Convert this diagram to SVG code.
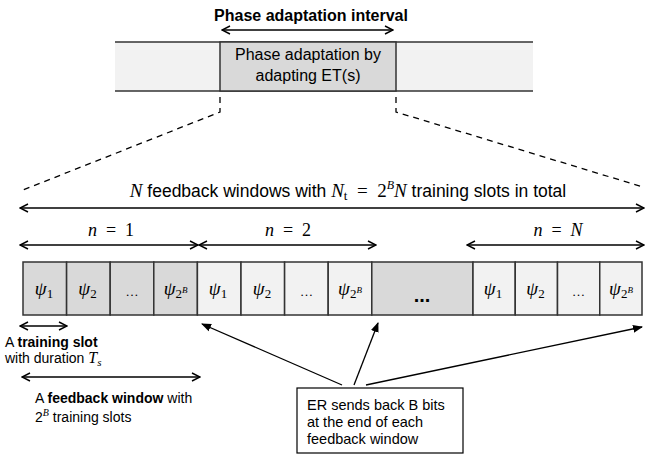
<svg xmlns="http://www.w3.org/2000/svg" width="654" height="460" viewBox="0 0 654 460">
<defs>
<marker id="oa" viewBox="0 0 10 10" refX="9" refY="5" markerWidth="10" markerHeight="10" markerUnits="userSpaceOnUse" orient="auto-start-reverse">
<path d="M1,1 L9,5 L1,9" fill="none" stroke="#000" stroke-width="1.4"/>
</marker>
<marker id="fa" viewBox="0 0 10 10" refX="9" refY="5" markerWidth="10" markerHeight="10" markerUnits="userSpaceOnUse" orient="auto">
<path d="M0,1 L10,5 L0,9 Z" fill="#000"/>
</marker>
</defs>
<style>
.s{font-family:"Liberation Sans",Arial,sans-serif;fill:#000}
.m{font-family:"Liberation Serif","Times New Roman",serif;fill:#000}
.i{font-style:italic}
.dk{fill:#d9d9d9;stroke:#333;stroke-width:1.5}
.lt{fill:#f2f2f2;stroke:#333;stroke-width:1.5}
.ln{stroke:#000;stroke-width:1.3;fill:none}
.dash{stroke:#000;stroke-width:1.3;fill:none;stroke-dasharray:6,5}
</style>
<rect width="654" height="460" fill="#fff"/>

<g id="top-bar">
<rect x="115" y="42" width="418" height="49" fill="#f2f2f2"/>
<line x1="115" y1="42" x2="533" y2="42" stroke="#333" stroke-width="1.5"/>
<line x1="115" y1="91" x2="533" y2="91" stroke="#333" stroke-width="1.5"/>
</g>
<g id="phase-adaptation">
<rect x="220" y="42" width="176" height="49" class="dk"/>
<text class="s" x="308" y="60" font-size="16" text-anchor="middle">Phase adaptation by</text>
<text class="s" x="308" y="81" font-size="16" text-anchor="middle">adapting ET(s)</text>
</g>
<text class="s" x="311" y="21" font-size="16" font-weight="bold" text-anchor="middle">Phase adaptation interval</text>

<g id="slots">
<rect x="23" y="262" width="43.6" height="53" class="dk"/>
<rect x="66.6" y="262" width="43.6" height="53" class="dk"/>
<rect x="110.2" y="262" width="43.6" height="53" class="dk"/>
<rect x="153.8" y="262" width="43.6" height="53" class="dk"/>
<rect x="197.4" y="262" width="43.6" height="53" class="lt"/>
<rect x="241" y="262" width="43.6" height="53" class="lt"/>
<rect x="284.6" y="262" width="43.6" height="53" class="lt"/>
<rect x="328.2" y="262" width="43.6" height="53" class="lt"/>
<rect x="371.8" y="262" width="101.2" height="53" class="dk"/>
<rect x="473" y="262" width="42.25" height="53" class="lt"/>
<rect x="515.25" y="262" width="42.25" height="53" class="lt"/>
<rect x="557.5" y="262" width="42.25" height="53" class="lt"/>
<rect x="599.75" y="262" width="42.25" height="53" class="lt"/>
<g class="m" font-size="19">
<text x="44" y="295" text-anchor="middle"><tspan class="i">ψ</tspan><tspan font-size="13" dy="3">1</tspan></text>
<text x="87.5" y="295" text-anchor="middle"><tspan class="i">ψ</tspan><tspan font-size="13" dy="3">2</tspan></text>
<text x="132" y="296" text-anchor="middle" font-size="13">…</text>
<text x="175.6" y="295" text-anchor="middle"><tspan class="i">ψ</tspan><tspan font-size="13" dy="3">2</tspan><tspan font-size="9" class="i" dy="-5">B</tspan></text>
<text x="218" y="295" text-anchor="middle"><tspan class="i">ψ</tspan><tspan font-size="13" dy="3">1</tspan></text>
<text x="262" y="295" text-anchor="middle"><tspan class="i">ψ</tspan><tspan font-size="13" dy="3">2</tspan></text>
<text x="306.4" y="296" text-anchor="middle" font-size="13">…</text>
<text x="350" y="295" text-anchor="middle"><tspan class="i">ψ</tspan><tspan font-size="13" dy="3">2</tspan><tspan font-size="9" class="i" dy="-5">B</tspan></text>
<text x="493" y="295" text-anchor="middle"><tspan class="i">ψ</tspan><tspan font-size="13" dy="3">1</tspan></text>
<text x="535.5" y="295" text-anchor="middle"><tspan class="i">ψ</tspan><tspan font-size="13" dy="3">2</tspan></text>
<text x="578.6" y="296" text-anchor="middle" font-size="13">…</text>
<text x="621" y="295" text-anchor="middle"><tspan class="i">ψ</tspan><tspan font-size="13" dy="3">2</tspan><tspan font-size="9" class="i" dy="-5">B</tspan></text>
</g>
<text class="s" x="422" y="302" font-size="20" font-weight="bold" text-anchor="middle">...</text>
</g>

<g id="er-box">
<rect x="297" y="388" width="166" height="65" fill="#fff" stroke="#000" stroke-width="1.2"/>
<text class="s" x="307" y="410" font-size="14.5">ER sends back B bits</text>
<text class="s" x="307" y="427" font-size="14.5">at the end of each</text>
<text class="s" x="307" y="444" font-size="14.5">feedback window</text>
</g>

<g id="labels">
<text class="s" x="348" y="197" font-size="17.5" text-anchor="middle"><tspan class="m i" font-size="19">N</tspan> feedback windows with <tspan class="m i" font-size="19">N</tspan><tspan class="m" font-size="13" dy="3">t</tspan><tspan class="m" font-size="19" dy="-3">&#8194;=&#8194;2</tspan><tspan class="m i" font-size="12" dy="-8">B</tspan><tspan class="m i" font-size="19" dy="8">N</tspan> training slots in total</text>
<text class="m" x="111" y="236" font-size="18" text-anchor="middle"><tspan class="i">n</tspan>&#8194;=&#8194;1</text>
<text class="m" x="288" y="236" font-size="18" text-anchor="middle"><tspan class="i">n</tspan>&#8194;=&#8194;2</text>
<text class="m" x="558" y="236" font-size="18" text-anchor="middle"><tspan class="i">n</tspan>&#8194;=&#8194;<tspan class="i">N</tspan></text>
<text class="s" x="5" y="347" font-size="14">A <tspan font-weight="bold">training slot</tspan></text>
<text class="s" x="5" y="363" font-size="14">with duration <tspan class="m i" font-size="16">T</tspan><tspan class="m i" font-size="11" dy="3">s</tspan></text>
<text class="s" x="35" y="403" font-size="14">A <tspan font-weight="bold">feedback window</tspan> with</text>
<text class="s" x="35" y="422" font-size="14">2<tspan class="m i" font-size="10" dy="-6">B</tspan><tspan dy="6"> training slots</tspan></text>
</g>

<g id="connectors">
<line x1="222" y1="30" x2="393" y2="30" class="ln" marker-start="url(#oa)" marker-end="url(#oa)"/>
<polyline points="220,97 220,112 23,190" class="dash"/>
<polyline points="396,97 396,112 643,187" class="dash"/>
<line x1="20" y1="208" x2="644" y2="208" class="ln" marker-start="url(#oa)" marker-end="url(#oa)"/>
<line x1="20" y1="245" x2="198" y2="245" class="ln" marker-start="url(#oa)" marker-end="url(#oa)"/>
<line x1="199" y1="245" x2="376" y2="245" class="ln" marker-start="url(#oa)" marker-end="url(#oa)"/>
<line x1="467" y1="245" x2="644" y2="245" class="ln" marker-start="url(#oa)" marker-end="url(#oa)"/>
<line x1="20" y1="326" x2="67" y2="326" class="ln" marker-start="url(#oa)" marker-end="url(#oa)"/>
<line x1="22" y1="377" x2="200" y2="377" class="ln" marker-start="url(#oa)" marker-end="url(#oa)"/>
<line x1="342" y1="385" x2="202" y2="324" class="ln" marker-end="url(#fa)"/>
<line x1="354" y1="385" x2="378" y2="323" class="ln" marker-end="url(#fa)"/>
<line x1="366" y1="385" x2="642" y2="327" class="ln" marker-end="url(#fa)"/>
</g>
</svg>
